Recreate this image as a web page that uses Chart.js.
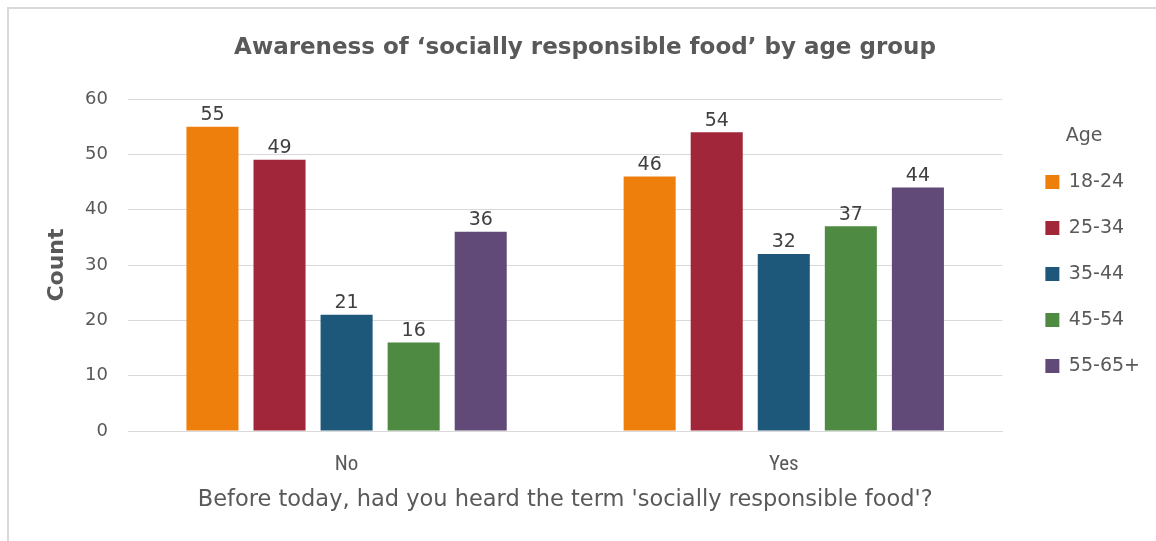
<!DOCTYPE html>
<html><head><meta charset="utf-8">
<script src="https://cdn.jsdelivr.net/npm/chart.js@4.4.1/dist/chart.umd.min.js"></script>
<style>
html,body{margin:0;padding:0;background:#fff;}
#frame{position:absolute;left:7px;top:7px;width:1160px;height:545px;border-left:2px solid #d9d9d9;border-top:2px solid #d9d9d9;box-sizing:border-box;}
#wrap{position:absolute;left:0;top:0;width:1156px;height:541px;}
</style></head>
<body>
<div id="frame"></div>
<div id="wrap"><canvas id="c" width="1156" height="541"></canvas></div>
<script>
const categories = ['No', 'Yes'];
const ageGroups = ['18-24', '25-34', '35-44', '45-54', '55-65+'];
const s1824 = [55, 46];
const s2534 = [49, 54];
const s3544 = [21, 32];
const s4554 = [16, 37];
const s5565 = [36, 44];
const yTicks = [0, 10, 20, 30, 40, 50, 60];
const colors = ['#ef7f0c', '#a22639', '#1d587b', '#4e8a41', '#614a78'];
const seriesValues = [s1824, s2534, s3544, s4554, s5565];

const narrow = "'Liberation Sans Narrow','Arial Narrow','Roboto Condensed',sans-serif";
const dv = "'DejaVu Sans','Open Sans',sans-serif";

const labelPlugin = {
  id: 'barLabels',
  afterDatasetsDraw(chart) {
    const ctx = chart.ctx;
    ctx.save();
    ctx.font = "19px " + dv;
    ctx.fillStyle = '#404040';
    ctx.textAlign = 'center';
    ctx.textBaseline = 'bottom';
    chart.data.datasets.forEach((ds, i) => {
      const meta = chart.getDatasetMeta(i);
      meta.data.forEach((bar, j) => {
        ctx.fillText(String(ds.data[j]), bar.x, bar.y - 2);
      });
    });
    ctx.restore();
  }
};

new Chart(document.getElementById('c'), {
  type: 'bar',
  data: {
    labels: categories,
    datasets: ageGroups.map((g, i) => ({
      label: g,
      data: seriesValues[i],
      backgroundColor: colors[i],
      borderWidth: 0,
      categoryPercentage: 0.767,
      barPercentage: 0.776
    }))
  },
  options: {
    responsive: false,
    animation: false,
    devicePixelRatio: 1,
    layout: { padding: { left: 20, right: 6, top: 0, bottom: 27 } },
    plugins: {
      title: {
        display: true,
        text: 'Awareness of \u2018socially responsible food\u2019 by age group',
        color: '#595959',
        font: { family: dv, size: 23, weight: 'bold' },
        padding: { top: 34, bottom: 37.4 }
      },
      legend: {
        position: 'right',
        align: 'center',
        title: {
          display: true,
          text: 'Age',
          color: '#595959',
          font: { family: dv, size: 19 },
          padding: { top: 15, bottom: -4 }
        },
        labels: {
          color: '#595959',
          font: { family: dv, size: 19 },
          boxWidth: 14,
          boxHeight: 14,
          padding: 27
        }
      },
      tooltip: { enabled: false }
    },
    scales: {
      x: {
        grid: { display: false, drawTicks: false },
        border: { display: true, color: '#d9d9d9', width: 1 },
        ticks: { color: '#595959', font: { family: narrow, size: 21 }, padding: 21 },
        title: {
          display: true,
          text: "Before today, had you heard the term 'socially responsible food'?",
          color: '#595959',
          font: { family: dv, size: 22.5 },
          padding: { top: 4, bottom: 0 }
        },
        afterFit: s => { s.height = 83; }
      },
      y: {
        min: 0, max: 60,
        afterBuildTicks: s => { s.ticks = yTicks.map(v => ({ value: v })); },
        grid: { color: '#d9d9d9', drawTicks: false, lineWidth: 1 },
        border: { display: false },
        ticks: { color: '#595959', font: { family: dv, size: 18 }, padding: 20 },
        title: {
          display: true,
          text: 'Count',
          color: '#595959',
          font: { family: dv, size: 22, weight: 'bold' },
          padding: { top: 24, bottom: 0 }
        },
        afterFit: s => { s.width = 108; }
      },
      gap: {
        position: 'right',
        display: true,
        min: 0, max: 60,
        grid: { display: false, drawTicks: false },
        border: { display: false },
        ticks: { display: false },
        afterFit: s => { s.width = 16; }
      }
    }
  },
  plugins: [labelPlugin]
});
</script>
</body></html>
